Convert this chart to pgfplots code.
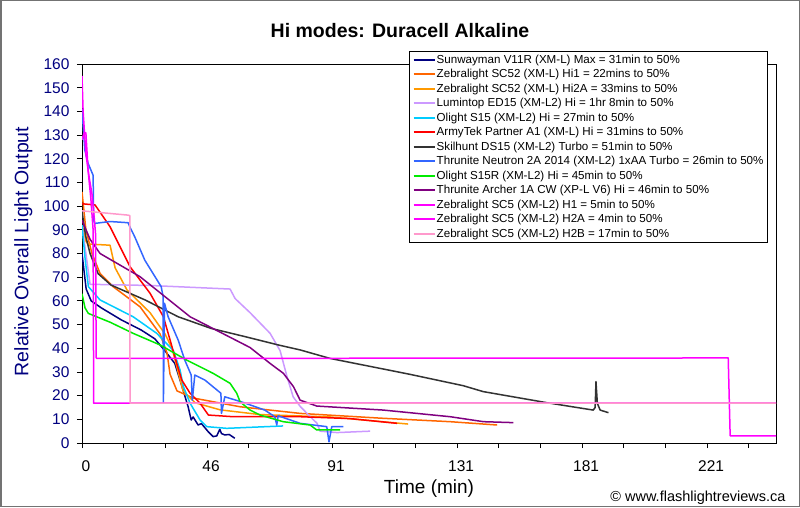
\documentclass[border=0pt]{standalone}
\usepackage{pgfplots}
\pgfplotsset{compat=1.18}
\usepackage{fontspec}
\setmainfont{Liberation Sans}
\definecolor{navyc}{RGB}{0,0,128}
\definecolor{cHiA}{RGB}{255,102,0}
\definecolor{cHiB}{RGB}{255,153,0}
\definecolor{cLum}{RGB}{204,153,255}
\definecolor{cOl}{RGB}{0,204,255}
\definecolor{cArmy}{RGB}{255,0,0}
\definecolor{cSkil}{RGB}{51,51,51}
\definecolor{cNeu}{RGB}{51,102,255}
\definecolor{cGreen}{RGB}{0,235,0}
\definecolor{cArch}{RGB}{128,0,128}
\definecolor{cMag}{RGB}{255,0,255}
\definecolor{cPink}{RGB}{255,153,204}
\begin{document}
\begin{tikzpicture}
\useasboundingbox (0,0) rectangle (800pt,507pt);
\fill[white] (0,0) rectangle (800pt,507pt);
\draw[line width=1.5pt, black!55] (0.75pt,0.75pt) rectangle (799.25pt,506.25pt);
\node[font=\fontsize{19.5}{22}\selectfont\bfseries] at (400pt,476pt) {Hi modes: Duracell Alkaline};
\begin{axis}[
  at={(82pt,64pt)}, anchor=south west,
  width=694pt, height=379pt, scale only axis,
  xmin=0, xmax=249.8, ymin=0, ymax=160,
  xtick={0,15,...,240},
  xticklabels={0,,,46,,,91,,,131,,,181,,,221,},
  ytick={0,10,...,160},
  /pgf/number format/assume math mode=true,
  tick align=outside, xtick pos=bottom, ytick pos=left,
  major tick length=5pt,
  tick style={black, line width=0.8pt},
  axis line style={black, line width=1pt},
  ticklabel style={font=\fontsize{15.5}{18}\selectfont},
  yticklabel style={text=navyc, xshift=-4pt},
  xticklabel style={text=black, xshift=4pt, yshift=-9pt},
  xlabel={Time (min)},
  xlabel style={font=\fontsize{19}{22}\selectfont, at={(axis description cs:0.5,-0.1214)}, anchor=center},
  ylabel={Relative Overall Light Output},
  ylabel style={font=\fontsize{19.5}{22}\selectfont, text=navyc, at={(axis description cs:-0.0845,0.5053)}, anchor=center},
  every axis plot/.append style={line width=1.5pt, line join=round},
  legend image code/.code={\draw[#1, solid, line width=2pt] (0pt,0pt) -- (21pt,0pt);},
  legend cell align=left,
  legend style={at={(axis description cs:0.4712,1.0343)}, anchor=north west,
    draw=black, line width=0.8pt, fill=white,
    inner xsep=3.1pt, inner ysep=1pt,
    column sep=0pt, row sep=0pt,
    font=\fontsize{11.6}{13}\selectfont,
    nodes={inner xsep=1.2pt, inner ysep=2.3pt}},
]
\addplot[navyc, line width=1.5pt] coordinates {(0,80) (0.8,72) (1.5,65) (3.3,60) (7,57) (14.1,52) (21.3,47.7) (26.2,44) (29.8,39) (33.4,33.6) (35.7,25) (37.5,18) (38.2,15.3) (39.3,9.7) (40,11) (41.8,7.6) (43,8.2) (45.4,4.8) (47.2,2.7) (48.5,3) (49.6,5.8) (50.2,4) (51.4,3.4) (53,3.6) (55,2)};
\addlegendentry{Sunwayman V11R (XM-L) Max = 31min to 50\%}
\addplot[cHiA, line width=1.5pt] coordinates {(0,106) (1.4,90) (3.6,80) (6.5,71.6) (11.2,66) (20.9,57.5) (28.1,46) (30.6,38) (31.7,29) (34.2,22) (40,19) (56.9,15.3) (78.5,12.5) (107.3,10.5) (132.5,9) (149.4,7.6)};
\addlegendentry{Zebralight SC52 (XM-L) Hi1 = 22mins to 50\%}
\addplot[cHiB, line width=1.5pt] coordinates {(0,92) (1.5,85) (2.2,84) (10.1,83.5) (11.9,74) (16.2,64.6) (24.5,55) (29.9,46) (32.4,40) (34.6,30) (36.4,22) (40.7,17) (49.7,14) (64.1,12) (89.3,11) (117.4,8)};
\addlegendentry{Zebralight SC52 (XM-L) Hi2A = 33mins to 50\%}
\addplot[cLum, line width=1.5pt] coordinates {(0,92) (1.4,80) (2.9,67) (24.5,66.5) (53.3,65) (55.1,61) (60.5,55) (67.7,46.3) (71.3,39) (73.8,28) (76,19.5) (78.5,15.5) (81,12.5) (84.6,8.3) (85.7,5) (91.8,4.4) (103.7,5)};
\addlegendentry{Lumintop ED15 (XM-L2) Hi = 1hr 8min to 50\%}
\addplot[cOl, line width=1.5pt] coordinates {(0,92) (1.1,78) (2.3,66) (6.5,60.4) (18.4,53.3) (26.9,46.3) (32.9,39) (35.3,30.8) (36.5,23.8) (38.9,16.8) (42.5,9.7) (44.9,6.9) (52.1,6.2) (72.4,7.2)};
\addlegendentry{Olight S15 (XM-L2) Hi = 27min to 50\%}
\addplot[cArmy, line width=1.5pt] coordinates {(0,101) (4.7,100.5) (10.1,91.3) (17.3,74.4) (24.5,63.2) (29.3,53.3) (31.7,43.5) (34.1,33.6) (35.9,26.6) (38.9,21) (42.5,16.8) (45.5,11.8) (54.4,11.1) (78.5,11.1) (96.5,10.3) (113.4,8.3)};
\addlegendentry{ArmyTek Partner A1 (XM-L) Hi = 31mins to 50\%}
\addplot[cSkil, line width=1.5pt] coordinates {(0,98) (0.7,92) (1.4,87) (2.9,80) (5.8,71.5) (10.4,66.7) (22.7,60.4) (34.6,53.3) (46.4,48.4) (58.7,44.9) (70.6,41.4) (78.5,39.3) (89.3,35.7) (107.3,31.5) (118,29) (137.2,24.2) (144.4,21.7) (167.4,17) (184,13.9) (184.7,15) (185,25.9) (185.5,16.7) (186.5,13.9) (189.5,12.8)};
\addlegendentry{Skilhunt DS15 (XM-L2) Turbo = 51min to 50\%}
\addplot[cNeu, line width=1.5pt] coordinates {(0,141) (1,123.7) (2.2,118) (3.3,115) (4,113) (4.2,94) (4.6,92.7) (10.1,93.5) (16.6,93) (17.2,91.3) (19,87) (22.6,77.2) (28.5,66) (29.2,61.8) (29.3,17) (29.7,59) (31,53.3) (34.6,43.5) (37,35) (39.3,28.7) (39.7,18) (40.6,28.7) (44.2,26.6) (50,21) (50.2,12.5) (51.4,19.5) (57.3,17.4) (65.8,13.9) (69.4,11.1) (70.1,7.6) (70.6,11.5) (78.5,8.3) (88.1,6.9) (88.9,0.5) (89.9,6.9) (94.1,6.9)};
\addlegendentry{Thrunite Neutron 2A 2014 (XM-L2) 1xAA Turbo = 26min to 50\%}
\addplot[cGreen, line width=1.5pt] coordinates {(0,63) (1.1,57) (2.3,54.7) (10.1,51) (18.4,46.3) (28.1,41.4) (37.7,35) (47.2,29.4) (53.3,25.2) (55.7,21) (56.9,17.4) (60.5,13.9) (64.1,11.8) (72.4,9) (82.1,7.6) (84.5,5.5) (92.9,5.5)};
\addlegendentry{Olight S15R (XM-L2) Hi = 45min to 50\%}
\addplot[cArch, line width=1.5pt] coordinates {(0,94) (2.9,86) (6.5,80) (20.9,70.2) (38.9,53.3) (60.5,40.3) (67.7,33.6) (72.5,29.4) (76.1,23.8) (78.5,18.1) (84.5,15.6) (108.5,13.9) (132.5,11.1) (144.5,9) (155.3,8.6)};
\addlegendentry{Thrunite Archer 1A CW (XP-L V6) Hi = 46min to 50\%}
\addplot[cMag, line width=1.5pt] coordinates {(0,128) (0.8,131) (1.4,131) (2.2,115) (3.2,103) (4,90) (4.2,16.8) (249.8,16.8)};
\addlegendentry{Zebralight SC5 (XM-L2) H1 = 5min to 50\%}
\addplot[cMag, line width=1.5pt] coordinates {(0,155) (0.4,140) (1.4,122) (2.6,112) (3.6,105) (4.4,95) (4.9,88) (5.1,36) (5.3,35.7) (232.6,35.9) (233.3,3) (249.8,3)};
\addlegendentry{Zebralight SC5 (XM-L2) H2A = 4min to 50\%}
\addplot[cPink, line width=1.5pt] coordinates {(0,98) (16.6,96.2) (17.2,96) (17.3,16.8) (249.8,16.8)};
\addlegendentry{Zebralight SC5 (XM-L2) H2B = 17min to 50\%}
\end{axis}
\node[font=\fontsize{14.5}{17}\selectfont, anchor=east] at (789pt,9pt) {© www.flashlightreviews.ca};
\end{tikzpicture}
\end{document}
